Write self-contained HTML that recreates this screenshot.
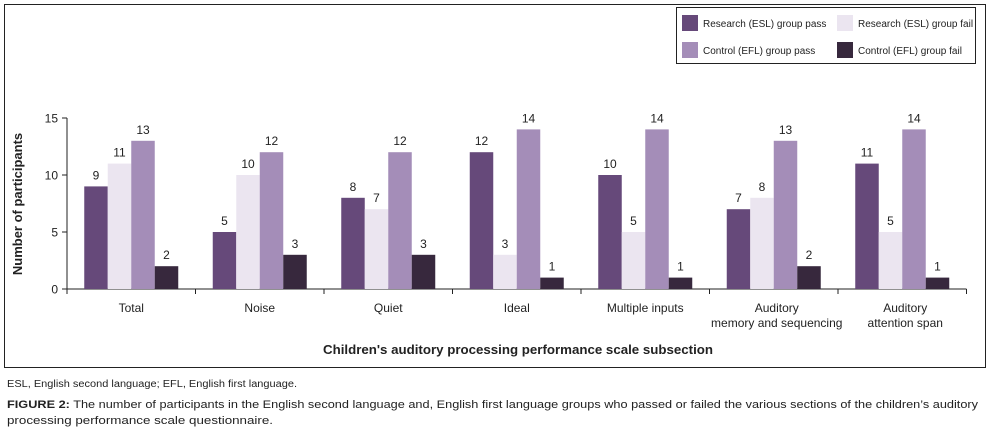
<!DOCTYPE html>
<html><head><meta charset="utf-8"><style>
html,body{margin:0;padding:0;background:#fff;}
svg{display:block;font-family:"Liberation Sans",sans-serif;}
</style></head><body>
<svg id="chart" width="1005" height="436" viewBox="0 0 1005 436" xmlns="http://www.w3.org/2000/svg">
<rect x="4.5" y="4.5" width="981" height="363" fill="none" stroke="#222" stroke-width="1"/>
<g id="legend">
<rect x="676.5" y="7.5" width="299" height="56" fill="none" stroke="#222" stroke-width="1"/>
</g>
<g id="plot"></g>
<text x="22" y="204" transform="rotate(-90 22 204)" text-anchor="middle" font-size="13" font-weight="bold" fill="#222">Number of participants</text>
<text x="518" y="354" text-anchor="middle" font-size="13" font-weight="bold" fill="#222" textLength="390" lengthAdjust="spacingAndGlyphs">Children's auditory processing performance scale subsection</text>
<text x="7" y="387" font-size="10" fill="#222" textLength="290" lengthAdjust="spacingAndGlyphs">ESL, English second language; EFL, English first language.</text>
<text x="7" y="408" font-size="11" fill="#222" textLength="971" lengthAdjust="spacingAndGlyphs"><tspan font-weight="bold">FIGURE 2:</tspan> The number of participants in the English second language and, English first language groups who passed or failed the various sections of the children’s auditory</text>
<text x="7" y="424" font-size="11" fill="#222" textLength="266" lengthAdjust="spacingAndGlyphs">processing performance scale questionnaire.</text>
</svg>
<script>
const categories = [["Total"],["Noise"],["Quiet"],["Ideal"],["Multiple inputs"],["Auditory","memory and sequencing"],["Auditory","attention span"]];
const seriesNames = ["Research (ESL) group pass","Research (ESL) group fail","Control (EFL) group pass","Control (EFL) group fail"];
const researchPass = [9,5,8,12,10,7,11];
const researchFail = [11,10,7,3,5,8,5];
const controlPass = [13,12,12,14,14,13,14];
const controlFail = [2,3,3,1,1,2,1];
const yTicks = [0,5,10,15];
const colors = ["#66497a","#ebe5f0","#a48db8","#37283d"];
const series = [researchPass,researchFail,controlPass,controlFail];

const NS="http://www.w3.org/2000/svg";
const x0=67, y0=289, yTop=118, yMax=15, catW=128.5, barW=23.5;
const yS=v=>y0-(v/yMax)*(y0-yTop);
const xC=i=>x0+i*catW;
const plot=document.getElementById('plot');
function mk(tag,attrs,parent){const e=document.createElementNS(NS,tag);for(const k in attrs)e.setAttribute(k,attrs[k]);(parent||plot).appendChild(e);return e;}

const ax=mk('line',{x1:x0,y1:yTop,x2:x0,y2:y0,stroke:'#222'});


const bx=mk('line',{x1:x0,y1:y0,x2:xC(categories.length),y2:y0,stroke:'#222'});


yTicks.forEach(t=>{
  const l=mk('line',{x1:x0-5,y1:yS(t),x2:x0,y2:yS(t),stroke:'#222'});
  
  
  const tx=mk('text',{x:x0-9,y:yS(t)+4.5,'text-anchor':'end','font-size':'12',fill:'#222'});
  tx.textContent=t;
  
  
});
for(let i=0;i<=categories.length;i++){
  const l=mk('line',{x1:xC(i),y1:y0,x2:xC(i),y2:y0+5,stroke:'#222'});
  
  
}
categories.forEach((c,i)=>{
  const cx=xC(i)+catW/2;
  c.forEach((line,j)=>{
    const t=mk('text',{x:cx+(c.length>1?3:0),y:312+j*15,'text-anchor':'middle','font-size':'12',fill:'#222'});
    t.textContent=line;
    
    
  });
  const gx=xC(i)+(catW-4*barW)/2;
  series.forEach((s,k)=>{
    const v=s[i];
    const r=mk('rect',{x:gx+k*barW,y:yS(v),width:barW,height:y0-yS(v),fill:colors[k]});
    
    
    const t=mk('text',{x:gx+k*barW+barW/2,y:yS(v)-7,'text-anchor':'middle','font-size':'12',fill:'#222'});
    t.textContent=v;
    
    
  });
});
const lg=document.getElementById('legend');
seriesNames.forEach((n,k)=>{
  const lx=k%2===0?682:837, ly=k<2?15:42;
  const sw=mk('rect',{x:lx,y:ly,width:16,height:16,fill:colors[k]},lg);
  
  
  const t=mk('text',{x:lx+21,y:ly+12,'font-size':'10',fill:'#222'},lg);
  t.textContent=n;
  
  
});
</script>
</body></html>
